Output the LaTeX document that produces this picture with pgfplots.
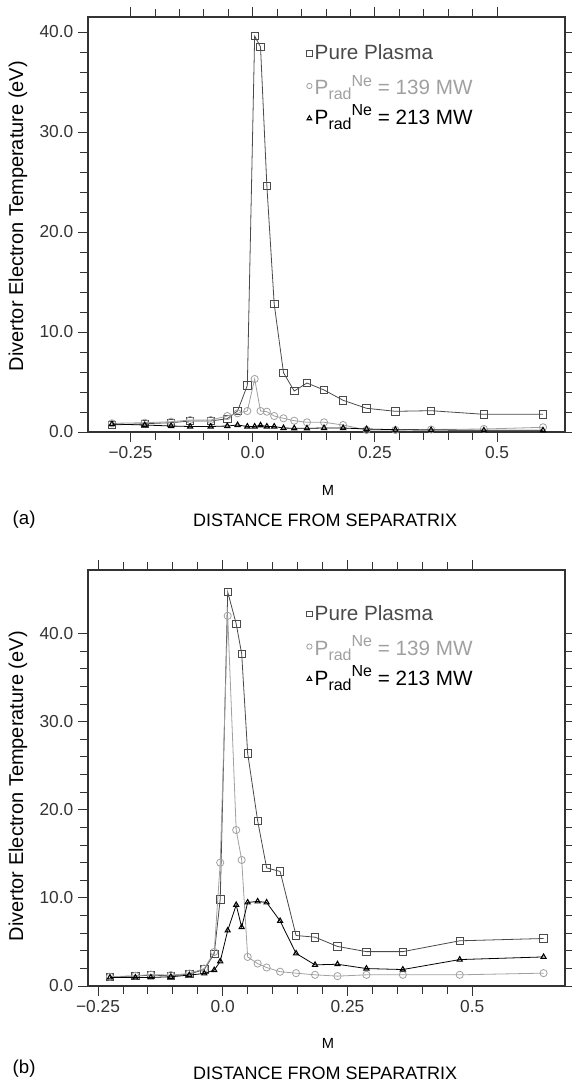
\documentclass[border=0pt]{standalone}
\usepackage{fontspec}
\setmainfont{Liberation Sans}
\usepackage{pgfplots}
\usepackage{pgfplotstable}
\pgfplotsset{compat=1.18}

\definecolor{pure}{HTML}{4A4A4A}
\definecolor{neA}{HTML}{A0A0A0}
\definecolor{neB}{HTML}{000000}
\definecolor{axisgray}{HTML}{333333}

% panel (a)
\pgfplotstableread{
x      pure   n139  n213
-0.288 0.70   0.87  0.80
-0.221 0.83   0.93  0.70
-0.167 0.93   1.03  0.60
-0.128 1.10   1.20  0.55
-0.086 1.10   1.20  0.55
-0.052 1.33   1.60  0.60
-0.031 2.10   1.87  0.70
-0.011 4.65   2.10  0.55
0.004  39.6   5.30  0.55
0.016  38.5   2.10  0.67
0.029  24.6   2.03  0.55
0.044  12.8   1.60  0.55
0.063  5.93   1.37  0.40
0.085  4.10   1.13  0.37
0.111  4.90   0.97  0.37
0.146  4.20   0.97  0.40
0.185  3.17   0.70  0.40
0.233  2.37   0.20  0.30
0.292  2.07   0.20  0.23
0.365  2.13   0.25  0.20
0.473  1.77   0.30  0.17
0.594  1.77   0.47  0.17
}\tablea

% panel (b)
\pgfplotstableread{
x      pure   n139  n213
-0.226 1.05   1.05  0.97
-0.175 1.12   1.16  0.97
-0.144 1.24   1.30  0.97
-0.104 1.16   1.24  1.05
-0.067 1.35   1.42  1.24
-0.037 1.87   1.98  1.42
-0.017 3.67   3.86  1.80
-0.005 9.85   14.0  2.80
0.010  44.7   42.0  6.30
0.027  41.1   17.7  9.20
0.038  37.7   14.3  6.67
0.050  26.4   3.30  9.48
0.070  18.75  2.55  9.60
0.088  13.4   2.10  9.48
0.115  13.0   1.62  7.38
0.147  5.73   1.46  3.70
0.185  5.54   1.27  2.40
0.230  4.49   1.12  2.47
0.288  3.90   1.27  1.98
0.361  3.90   1.27  1.87
0.475  5.13   1.27  3.00
0.643  5.39   1.46  3.30
}\tableb

% P_rad^Ne; the smashed parts keep the legend rows at the reference spacing
\newcommand{\subrad}{\raisebox{-0.45ex}{\fontsize{12}{12}\selectfont rad}}
\newcommand{\supne}{\raisebox{0.8ex}{\fontsize{12}{12}\selectfont Ne}}
\newcommand{\pradA}{P\smash{\subrad}\supne}
\newcommand{\pradB}{P\subrad\smash{\supne}}

\pgfplotsset{
  tempstyle/.style={
    scale only axis,
    width=357.75pt,
    clip mode=individual,
    axis line style={axisgray, line width=0.8pt},
    tick style={axisgray, line width=0.6pt},
    tick align=outside,
    major tick length=7.5pt,
    minor tick length=6pt,
    xtick={-0.25,0,0.25,0.5},
    xticklabels={−0.25,0.0,0.25,0.5},
    minor x tick num=4,
    ytick={0,10,20,30,40},
    yticklabels={0.0,10.0,20.0,30.0,40.0},
    minor y tick num=4,
    ymin=0,
    tick label style={font=\fontsize{13}{15}\selectfont, text=axisgray},
    ylabel={Divertor Electron Temperature (eV)},
    xlabel={M},
    xlabel style={font=\fontsize{11}{13}\selectfont, anchor=center},
    legend style={draw=none, fill=none, inner sep=0pt,
      font=\fontsize{15.5}{18}\selectfont, row sep=6pt},
    legend cell align=left,
    legend image code/.code={\path[##1,mark size=2pt] plot coordinates {(0.1cm,0cm)};},
  },
  purestyle/.style={color=pure, line width=0.6pt, mark=square, mark size=2.8pt},
  astyle/.style={color=neA, line width=0.6pt, mark=o, mark size=2.7pt},
  bstyle/.style={color=neB, line width=0.6pt, mark=triangle, mark size=2.2pt,
    mark options={line width=0.8pt}},
}

\begin{document}
\begin{tikzpicture}
\path[use as bounding box] (0,0) rectangle (428.25pt,-813pt);

\begin{axis}[tempstyle,
  at={(66pt,-324pt)}, anchor=south west,
  height=311.25pt,
  xmin=-0.337, xmax=0.639, ymax=41.5,
  ylabel style={font=\fontsize{15}{18}\selectfont, at={(axis description cs:-0.147,0.52)}, anchor=center},
  xlabel style={at={(axis description cs:0.503,-0.14)}},
  legend style={at={(rel axis cs:0.458,0.94)}, anchor=north west},
]
\addplot[purestyle] table[x=x, y=pure] {\tablea};
\addlegendentry{\textcolor{pure}{Pure Plasma}}
\addplot[astyle] table[x=x, y=n139] {\tablea};
\addlegendentry{\textcolor{neA}{\pradA{} = 139 MW}}
\addplot[bstyle] table[x=x, y=n213] {\tablea};
\addlegendentry{\textcolor{neB}{\pradB{} = 213 MW}}
\node[font=\fontsize{13.5}{16}\selectfont] at (axis description cs:0.497,-0.212) {DISTANCE FROM SEPARATRIX};
\node[font=\fontsize{14}{16}\selectfont] at (axis description cs:-0.134,-0.212) {(a)};
\end{axis}

\begin{axis}[tempstyle,
  at={(66pt,-739.5pt)}, anchor=south west,
  height=312pt,
  xmin=-0.270, xmax=0.686, ymax=47.2,
  ylabel style={font=\fontsize{15}{18}\selectfont, at={(axis description cs:-0.147,0.48)}, anchor=center},
  xlabel style={at={(axis description cs:0.503,-0.137)}},
  legend style={at={(rel axis cs:0.458,0.922)}, anchor=north west},
]
\addplot[purestyle] table[x=x, y=pure] {\tableb};
\addlegendentry{\textcolor{pure}{Pure Plasma}}
\addplot[astyle] table[x=x, y=n139] {\tableb};
\addlegendentry{\textcolor{neA}{\pradA{} = 139 MW}}
\addplot[bstyle] table[x=x, y=n213] {\tableb};
\addlegendentry{\textcolor{neB}{\pradB{} = 213 MW}}
\node[font=\fontsize{13.5}{16}\selectfont] at (axis description cs:0.497,-0.209) {DISTANCE FROM SEPARATRIX};
\node[font=\fontsize{14}{16}\selectfont] at (axis description cs:-0.134,-0.198) {(b)};
\end{axis}
\end{tikzpicture}
\end{document}
